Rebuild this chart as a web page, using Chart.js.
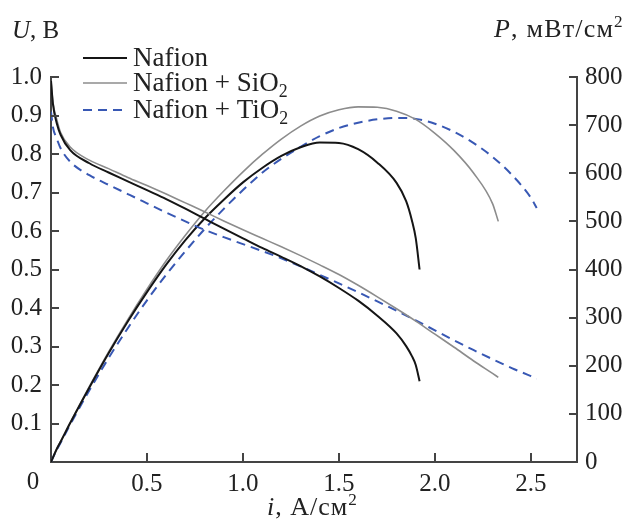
<!DOCTYPE html>
<html>
<head>
<meta charset="utf-8">
<script src="https://cdn.jsdelivr.net/npm/chart.js@4"></script>
<style>
    html, body { margin: 0; padding: 0; background: #fff; }
    #wrap { width: 624px; height: 525px; position: relative; }
</style>
</head>
<body>
<div id="wrap"><canvas id="chart"></canvas></div>
<script>
// current density, A/cm2; voltage, V; power density, mW/cm2
const iNafion = [0, 0.01, 0.03, 0.05, 0.1, 0.2, 0.3, 0.4, 0.5, 0.6, 0.7, 0.8, 0.9, 1.0, 1.1, 1.2, 1.3, 1.4, 1.5, 1.6, 1.7, 1.8, 1.85, 1.88, 1.9, 1.92];
const uNafion = [0.99, 0.93, 0.88, 0.85, 0.81, 0.776, 0.752, 0.729, 0.706, 0.683, 0.658, 0.632, 0.606, 0.581, 0.556, 0.533, 0.509, 0.482, 0.452, 0.419, 0.38, 0.334, 0.301, 0.275, 0.252, 0.21];
const pNafion = [0, 9, 27, 42, 81, 155, 226, 292, 353, 410, 461, 506, 545, 581, 611, 636, 654, 664, 663, 650, 622, 580, 542, 502, 465, 400];

const iSiO2 = [0, 0.01, 0.03, 0.05, 0.1, 0.2, 0.3, 0.4, 0.5, 0.6, 0.7, 0.8, 0.9, 1.0, 1.1, 1.2, 1.3, 1.4, 1.5, 1.6, 1.7, 1.8, 1.9, 2.0, 2.1, 2.2, 2.3, 2.33];
const uSiO2 = [0.99, 0.935, 0.89, 0.856, 0.818, 0.784, 0.762, 0.739, 0.718, 0.696, 0.673, 0.65, 0.626, 0.603, 0.581, 0.559, 0.536, 0.512, 0.487, 0.459, 0.429, 0.398, 0.366, 0.332, 0.298, 0.263, 0.23, 0.22];
const pSiO2 = [0, 9, 27, 43, 82, 157, 229, 296, 359, 418, 471, 520, 563, 603, 639, 671, 698, 719, 732, 738, 737, 729, 712, 683, 647, 601, 537, 500];

const iTiO2 = [0, 0.01, 0.03, 0.05, 0.1, 0.2, 0.3, 0.4, 0.5, 0.6, 0.7, 0.8, 0.9, 1.0, 1.1, 1.2, 1.3, 1.4, 1.5, 1.6, 1.7, 1.8, 1.9, 2.0, 2.1, 2.2, 2.3, 2.4, 2.5, 2.53];
const uTiO2 = [0.91, 0.87, 0.84, 0.815, 0.78, 0.745, 0.72, 0.696, 0.672, 0.648, 0.625, 0.603, 0.584, 0.566, 0.548, 0.529, 0.508, 0.486, 0.464, 0.441, 0.417, 0.393, 0.368, 0.342, 0.316, 0.291, 0.267, 0.244, 0.223, 0.216];
const pTiO2 = [0, 9, 25, 40, 78, 149, 216, 278, 336, 389, 438, 484, 526, 565, 601, 630, 655, 677, 694, 705, 712, 715, 713, 703, 686, 663, 634, 597, 549, 528];

const xTicks = [0.5, 1.0, 1.5, 2.0, 2.5];
const uTicks = [0.1, 0.2, 0.3, 0.4, 0.5, 0.6, 0.7, 0.8, 0.9, 1.0];
const pTicks = [0, 100, 200, 300, 400, 500, 600, 700, 800];

const SERIF = "'Liberation Serif', 'Times New Roman', serif";
const AXIS_COLOR = '#444';
const TEXT_COLOR = '#222';

const STYLES = {
    nafion: { borderColor: '#151515', borderWidth: 2, borderDash: [] },
    sio2: { borderColor: '#8c8c8c', borderWidth: 1.6, borderDash: [] },
    tio2: { borderColor: '#3858b4', borderWidth: 2, borderDash: [9, 6] },
};

const toPoints = (xs, ys) => xs.map((x, k) => ({ x, y: ys[k] }));

function series(xs, ys, style, axis) {
    return {
        data: toPoints(xs, ys),
        yAxisID: axis,
        ...style,
        pointRadius: 0,
        fill: false,
        cubicInterpolationMode: 'monotone',
    };
}

const datasets = [
    series(iNafion, uNafion, STYLES.nafion, 'y'),
    series(iSiO2, uSiO2, STYLES.sio2, 'y'),
    series(iTiO2, uTiO2, STYLES.tio2, 'y'),
    series(iNafion, pNafion, STYLES.nafion, 'y2'),
    series(iSiO2, pSiO2, STYLES.sio2, 'y2'),
    series(iTiO2, pTiO2, STYLES.tio2, 'y2'),
];

// text with italic variable and sub/superscript parts
function drawRich(ctx, x, y, parts, size, spacing = 0) {
    ctx.textBaseline = 'alphabetic';
    ctx.textAlign = 'left';
    parts.forEach((p) => {
        const s = p.small ? size * 0.66 : size;
        ctx.letterSpacing = (p.small ? 0 : spacing) + 'px';
        ctx.font = `${p.italic ? 'italic ' : ''}${s}px ${SERIF}`;
        const dy = p.sup ? -size * 0.38 : p.sub ? size * 0.22 : 0;
        ctx.fillText(p.t, x, y + dy);
        x += ctx.measureText(p.t).width;
    });
    ctx.letterSpacing = '0px';
}

const decorations = {
    id: 'decorations',
    afterDraw(chart) {
        const { ctx, chartArea: a, scales } = chart;
        ctx.save();
        ctx.strokeStyle = AXIS_COLOR;
        ctx.lineWidth = 2;
        ctx.beginPath();
        uTicks.forEach((v) => {
            const y = Math.round(scales.y.getPixelForValue(v));
            ctx.moveTo(a.left, y);
            ctx.lineTo(a.left + 8, y);
        });
        pTicks.forEach((v) => {
            const y = Math.round(scales.y2.getPixelForValue(v));
            ctx.moveTo(a.right, y);
            ctx.lineTo(a.right - 8, y);
        });
        xTicks.forEach((v) => {
            const x = Math.round(scales.x.getPixelForValue(v));
            ctx.moveTo(x, a.bottom);
            ctx.lineTo(x, a.bottom - 9);
        });
        ctx.stroke();

        ctx.fillStyle = TEXT_COLOR;
        ctx.font = `25px ${SERIF}`;
        ctx.textAlign = 'center';
        ctx.textBaseline = 'middle';
        ctx.fillText('0', 33, a.bottom + 20);

        drawRich(ctx, 12, 38, [{ t: 'U', italic: true }, { t: ', В' }], 25);
        drawRich(ctx, 494, 37, [{ t: 'P', italic: true }, { t: ', мВт/см' }, { t: '2', small: true, sup: true }], 26, 1.2);
        drawRich(ctx, 267, 515, [{ t: 'i', italic: true }, { t: ', А/см' }, { t: '2', small: true, sup: true }], 26, 1);

        const legend = [
            { style: STYLES.nafion, y: 58, parts: [{ t: 'Nafion' }] },
            { style: STYLES.sio2, y: 83, parts: [{ t: 'Nafion + SiO' }, { t: '2', small: true, sub: true }] },
            { style: STYLES.tio2, y: 110, parts: [{ t: 'Nafion + TiO' }, { t: '2', small: true, sub: true }] },
        ];
        legend.forEach((row) => {
            ctx.strokeStyle = row.style.borderColor;
            ctx.lineWidth = row.style.borderWidth;
            ctx.setLineDash(row.style.borderDash);
            ctx.beginPath();
            ctx.moveTo(83, row.y);
            ctx.lineTo(127, row.y);
            ctx.stroke();
            ctx.setLineDash([]);
            ctx.fillStyle = TEXT_COLOR;
            drawRich(ctx, 133, row.y + 8, row.parts, 27);
        });
        ctx.restore();
    },
};

const tickFont = { family: SERIF, size: 25 };

new Chart(document.getElementById('chart'), {
    type: 'line',
    data: { datasets },
    plugins: [decorations],
    options: {
        responsive: true,
        maintainAspectRatio: false,
        animation: false,
        layout: { padding: { top: 77, left: 0, right: 0, bottom: 0 } },
        plugins: { legend: { display: false }, tooltip: { enabled: false } },
        scales: {
            x: {
                type: 'linear',
                min: 0,
                max: 2.74,
                grid: { display: false, drawTicks: false },
                border: { display: true, color: AXIS_COLOR, width: 2 },
                afterBuildTicks: (axis) => { axis.ticks = xTicks.map((v) => ({ value: v })); },
                ticks: { font: tickFont, color: TEXT_COLOR, padding: 7, maxRotation: 0, callback: (v) => v.toFixed(1) },
                afterFit: (axis) => { axis.height = 63; },
            },
            y: {
                position: 'left',
                min: 0,
                max: 1.0,
                grid: { display: false, drawTicks: false },
                border: { display: true, color: AXIS_COLOR, width: 2 },
                afterBuildTicks: (axis) => { axis.ticks = uTicks.map((v) => ({ value: v })); },
                ticks: { font: tickFont, color: TEXT_COLOR, padding: 9, callback: (v) => v.toFixed(1) },
                afterFit: (axis) => { axis.width = 51; },
            },
            y2: {
                position: 'right',
                min: 0,
                max: 800,
                grid: { display: false, drawTicks: false },
                border: { display: true, color: AXIS_COLOR, width: 2 },
                afterBuildTicks: (axis) => { axis.ticks = pTicks.map((v) => ({ value: v })); },
                ticks: { font: tickFont, color: TEXT_COLOR, padding: 8, callback: (v) => String(v) },
                afterFit: (axis) => { axis.width = 47; },
            },
        },
    },
});
</script>
</body>
</html>
